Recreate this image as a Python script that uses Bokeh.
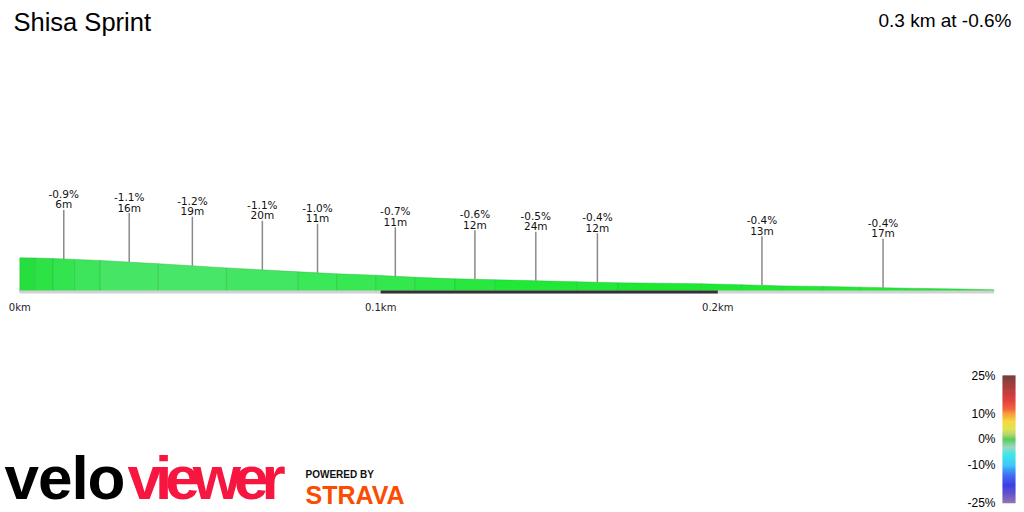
import numpy as np
from bokeh.plotting import figure
from bokeh.models import Range1d
from bokeh.core.properties import value
from bokeh.embed import file_html
from bokeh.resources import INLINE

# ---------------- data ----------------
title_text = "Shisa Sprint"
summary_text = "0.3 km at -0.6%"

# segment boundaries along the route (m) and elevation above profile base (m)
bound_m = [0.0, 4.3, 9.5, 15.7, 23.0, 39.7, 59.2, 79.8, 90.8, 102.0, 113.2, 124.7,
           136.1, 159.6, 171.4, 195.1, 206.8, 218.5, 230.2, 240.8, 253.9, 268.8, 279.1]
elev_m = [1.90, 1.89, 1.86, 1.81, 1.75, 1.57, 1.34, 1.12, 1.01, 0.93, 0.82, 0.73,
          0.68, 0.57, 0.51, 0.46, 0.40, 0.34, 0.31, 0.27, 0.21, 0.17, 0.12]
seg_colors = ["#27de3f", "#2ce244", "#33e44e", "#3de55a", "#46e566", "#47e668",
              "#42e662", "#3be858", "#37e852", "#32e84c", "#2de846", "#28e840",
              "#21e837", "#22e838", "#1fe833", "#1ee832", "#1fe833", "#1ee832",
              "#1ee832", "#1ee832", "#1fe433", "#22e035"]

label_seg = [2, 4, 5, 6, 7, 9, 11, 12, 13, 16, 19]
label_grade = ["-0.9%", "-1.1%", "-1.2%", "-1.1%", "-1.0%", "-0.7%", "-0.6%",
               "-0.5%", "-0.4%", "-0.4%", "-0.4%"]
label_len = ["6m", "16m", "19m", "20m", "11m", "11m", "12m", "24m", "12m", "13m", "17m"]

tick_m = [0.0, 103.4, 200.0]
tick_labels = ["0km", "0.1km", "0.2km"]

scale_vals = [25, 10, 0, -10, -25]
scale_labels = ["25%", "10%", "0%", "-10%", "-25%"]
grad_stops = [25, 21, 16, 12, 10, 7, 4, 2, 0, -3, -6, -10, -14, -18, -22, -25]
grad_colors = ["#4a0000", "#8a0000", "#d00000", "#f03000", "#f58000", "#f0d000",
               "#d8d820", "#a0c840", "#20c020", "#80c8b0", "#00e0e0", "#00b8f8",
               "#0040f0", "#0000e0", "#3c28b0", "#7a4898"]

# ---------------- figure ----------------
p = figure(width=1024, height=512, output_backend="svg", toolbar_location=None,
           x_range=Range1d(-5.530, 287.88), y_range=Range1d(-12.25, 16.194),
           x_axis_location=None, y_axis_location=None, min_border=0, title=None)
p.outline_line_color = None
p.background_fill_color = "white"
p.border_fill_color = "white"
p.grid.grid_line_color = None

p.extra_x_ranges = {"px": Range1d(0, 1024)}
p.extra_y_ranges = {"px": Range1d(512, 0), "grad": Range1d(-28.64, 171.83)}

# profile segments
xs, ys = [], []
for i in range(len(bound_m) - 1):
    xs.append([bound_m[i], bound_m[i], bound_m[i + 1], bound_m[i + 1]])
    ys.append([0, elev_m[i], elev_m[i + 1], 0])
p.patches(xs, ys, fill_color=seg_colors, line_color="#26b83e", line_alpha=0.45,
          line_width=1)

# axis band
p.line([bound_m[0], bound_m[-1]], [0, 0], line_color="#d2d2d2", line_width=3)
p.line(tick_m[1:3], [0, 0], line_color="#333333", line_width=3)
p.text(x=tick_m, y=[0] * len(tick_m), text=tick_labels, y_offset=15.5,
       text_align="center", text_baseline="middle", text_color="#222222",
       text_font=value("DejaVu Sans"), text_font_size="10px")

# pins and labels
mid = [(bound_m[i] + bound_m[i + 1]) / 2 for i in label_seg]
emid = [(elev_m[i] + elev_m[i + 1]) / 2 for i in label_seg]
pin_h = 49 / 18.0
p.segment(x0=mid, y0=emid, x1=mid, y1=[e + pin_h for e in emid],
          line_color="#8a8a8a", line_width=1.5)
p.text(x=mid, y=emid, text=label_grade, y_offset=-65, text_align="center",
       text_baseline="middle", text_color="#111111",
       text_font=value("DejaVu Sans"), text_font_size="10.5px")
p.text(x=mid, y=emid, text=label_len, y_offset=-54.5, text_align="center",
       text_baseline="middle", text_color="#111111",
       text_font=value("DejaVu Sans"), text_font_size="10.5px")

# titles
p.text(x=[13], y=[21], text=[title_text], x_range_name="px", y_range_name="px",
       text_align="left", text_baseline="middle", text_color="#000000",
       text_font=value("Liberation Sans"), text_font_size="25.5px")
p.text(x=[1011], y=[20], text=[summary_text], x_range_name="px", y_range_name="px",
       text_align="right", text_baseline="middle", text_color="#000000",
       text_font=value("Liberation Sans"), text_font_size="19px")

# colour scale
steps = np.linspace(-25, 25, 201)
sv = grad_stops[::-1]
sc = grad_colors[::-1]
def hex2rgb(h):
    return np.array([int(h[1:3], 16), int(h[3:5], 16), int(h[5:7], 16)], float)
rgbs = np.array([hex2rgb(c) for c in sc])
cols = []
for s in steps[:-1] + 0.125:
    r = np.interp(s, sv, rgbs[:, 0]); g = np.interp(s, sv, rgbs[:, 1]); b = np.interp(s, sv, rgbs[:, 2])
    cols.append("#%02x%02x%02x" % (int(r), int(g), int(b)))
p.quad(left=[1002] * 200, right=[1015] * 200, bottom=steps[:-1], top=steps[1:],
       fill_color=cols, line_color=None, x_range_name="px", y_range_name="grad")
p.text(x=[995] * len(scale_vals), y=scale_vals, text=scale_labels,
       x_range_name="px", y_range_name="grad", text_align="right",
       text_baseline="middle", text_color="#000000",
       text_font=value("Liberation Sans"), text_font_size="12px")

# logos
logo_letters = ["v", "e", "l", "o", "v", "i", "e", "w", "e", "r"]
logo_x = [4, 37.5, 71, 87, 127, 154.5, 164.7, 192.2, 233.4, 260.9]
logo_cols = ["#000000"] * 4 + ["#f7163f"] * 6
p.text(x=logo_x, y=[477] * 10, text=logo_letters, x_range_name="px", y_range_name="px",
       text_align="left", text_baseline="middle", text_color=logo_cols,
       text_font=value("Liberation Sans"), text_font_style="bold", text_font_size="62px")
p.text(x=[305], y=[473.5], text=["POWERED BY"], x_range_name="px", y_range_name="px",
       text_align="left", text_baseline="middle", text_color="#111111",
       text_font=value("Liberation Sans"), text_font_style="bold", text_font_size="10px")
p.text(x=[305], y=[494], text=["STRAVA"], x_range_name="px", y_range_name="px",
       text_align="left", text_baseline="middle", text_color="#fc4c02",
       text_font=value("Liberation Sans"), text_font_style="bold", text_font_size="25px")

open("out.html", "w").write(file_html(p, INLINE))
